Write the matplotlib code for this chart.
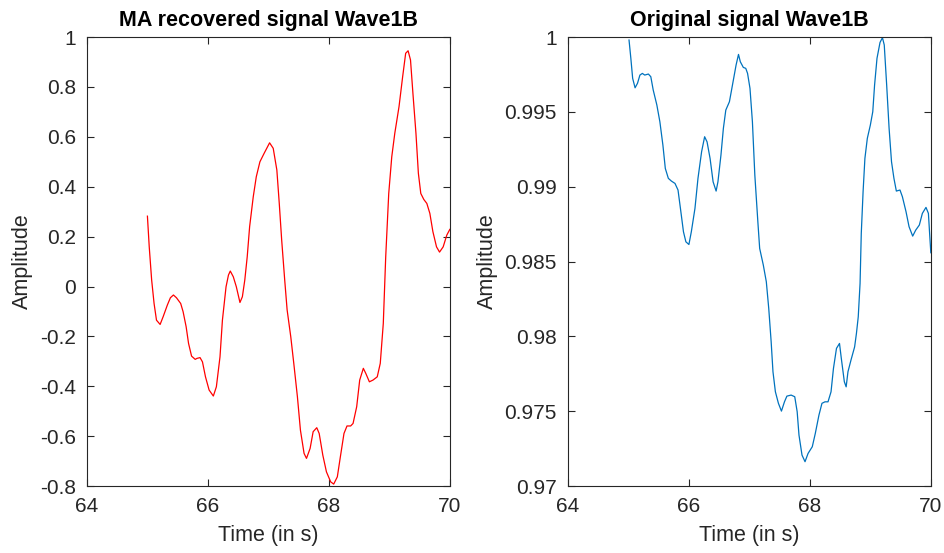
import matplotlib
matplotlib.use("Agg")
import matplotlib.pyplot as plt

plt.rcParams['font.family'] = ['Liberation Sans', 'DejaVu Sans']

# MA recovered signal, Wave1B
t_ma = [65.00, 65.03, 65.07, 65.11, 65.15, 65.21, 65.26, 65.33, 65.38, 65.43,
        65.48, 65.55, 65.59, 65.64, 65.68, 65.73, 65.79, 65.82, 65.87, 65.91,
        65.96, 66.02, 66.09, 66.14, 66.20, 66.24, 66.30, 66.34, 66.37, 66.42,
        66.47, 66.53, 66.57, 66.61, 66.65, 66.69, 66.75, 66.80, 66.86, 66.93,
        67.02, 67.08, 67.14, 67.18, 67.22, 67.27, 67.31, 67.37, 67.42, 67.48,
        67.53, 67.59, 67.63, 67.69, 67.74, 67.80, 67.84, 67.90, 67.96, 68.03,
        68.08, 68.14, 68.19, 68.25, 68.30, 68.36, 68.40, 68.46, 68.51, 68.57,
        68.61, 68.67, 68.73, 68.80, 68.85, 68.90, 68.94, 68.99, 69.04, 69.09,
        69.16, 69.22, 69.27, 69.31, 69.35, 69.39, 69.44, 69.48, 69.52, 69.57,
        69.62, 69.67, 69.72, 69.78, 69.83, 69.89, 69.95, 70.00]
y_ma = [0.282, 0.159, 0.026, -0.068, -0.135, -0.152, -0.121, -0.074, -0.045, -0.034,
        -0.045, -0.068, -0.101, -0.161, -0.228, -0.279, -0.292, -0.288, -0.285, -0.302,
        -0.362, -0.415, -0.439, -0.402, -0.282, -0.135, -0.001, 0.046, 0.062, 0.039,
        -0.001, -0.064, -0.041, 0.026, 0.119, 0.240, 0.360, 0.440, 0.500, 0.534,
        0.576, 0.554, 0.467, 0.333, 0.186, 0.026, -0.094, -0.201, -0.308, -0.442,
        -0.576, -0.669, -0.689, -0.649, -0.582, -0.566, -0.589, -0.676, -0.743, -0.783,
        -0.792, -0.763, -0.683, -0.589, -0.559, -0.559, -0.549, -0.482, -0.375, -0.328,
        -0.348, -0.382, -0.375, -0.362, -0.308, -0.148, 0.119, 0.373, 0.520, 0.614,
        0.721, 0.841, 0.935, 0.945, 0.908, 0.774, 0.614, 0.454, 0.373, 0.349,
        0.333, 0.293, 0.220, 0.159, 0.138, 0.159, 0.206, 0.229]

# original signal, Wave1B
t_orig = [65.01, 65.04, 65.07, 65.11, 65.15, 65.19, 65.23, 65.27, 65.33, 65.37,
          65.41, 65.47, 65.52, 65.57, 65.61, 65.66, 65.71, 65.77, 65.82, 65.86,
          65.91, 65.95, 66.00, 66.04, 66.10, 66.15, 66.21, 66.26, 66.30, 66.35,
          66.40, 66.45, 66.48, 66.53, 66.57, 66.61, 66.67, 66.72, 66.78, 66.82,
          66.85, 66.90, 66.94, 66.97, 67.01, 67.05, 67.09, 67.14, 67.17, 67.23,
          67.28, 67.32, 67.36, 67.39, 67.43, 67.48, 67.53, 67.58, 67.62, 67.69,
          67.75, 67.79, 67.82, 67.87, 67.92, 67.97, 68.04, 68.09, 68.15, 68.20,
          68.25, 68.30, 68.35, 68.39, 68.44, 68.49, 68.52, 68.57, 68.60, 68.63,
          68.68, 68.74, 68.77, 68.80, 68.83, 68.85, 68.88, 68.91, 68.95, 69.00,
          69.04, 69.07, 69.11, 69.16, 69.20, 69.23, 69.27, 69.31, 69.35, 69.39,
          69.43, 69.49, 69.53, 69.59, 69.64, 69.70, 69.75, 69.81, 69.86, 69.92,
          69.96, 69.98, 70.00]
y_orig = [0.99980, 0.99858, 0.99724, 0.99661, 0.99691, 0.99746, 0.99757, 0.99746, 0.99753, 0.99735,
          0.99646, 0.99546, 0.99434, 0.99278, 0.99122, 0.99056, 0.99038, 0.99022, 0.98978, 0.98855,
          0.98699, 0.98632, 0.98614, 0.98699, 0.98855, 0.99056, 0.99234, 0.99334, 0.99300, 0.99189,
          0.99033, 0.98971, 0.99033, 0.99212, 0.99390, 0.99512, 0.99568, 0.99679, 0.99813, 0.99884,
          0.99835, 0.99797, 0.99791, 0.99757, 0.99657, 0.99434, 0.99078, 0.98766, 0.98588, 0.98477,
          0.98365, 0.98187, 0.97964, 0.97764, 0.97630, 0.97553, 0.97501, 0.97563, 0.97601, 0.97608,
          0.97597, 0.97497, 0.97341, 0.97207, 0.97163, 0.97218, 0.97263, 0.97352, 0.97474, 0.97553,
          0.97563, 0.97563, 0.97630, 0.97786, 0.97920, 0.97953, 0.97853, 0.97697, 0.97663, 0.97764,
          0.97842, 0.97930, 0.98020, 0.98131, 0.98354, 0.98688, 0.98967, 0.99189, 0.99323, 0.99412,
          0.99501, 0.99679, 0.99858, 0.99964, 0.99996, 0.99947, 0.99679, 0.99390, 0.99167, 0.99056,
          0.98971, 0.98978, 0.98933, 0.98833, 0.98733, 0.98670, 0.98710, 0.98744, 0.98822, 0.98862,
          0.98822, 0.98688, 0.98559]

x_ticks = [64, 66, 68, 70]
ma_ticks = [-0.8, -0.6, -0.4, -0.2, 0, 0.2, 0.4, 0.6, 0.8, 1]
ma_labels = ['-0.8', '-0.6', '-0.4', '-0.2', '0', '0.2', '0.4', '0.6', '0.8', '1']
orig_ticks = [0.97, 0.975, 0.98, 0.985, 0.99, 0.995, 1]
orig_labels = ['0.97', '0.975', '0.98', '0.985', '0.99', '0.995', '1']

fig = plt.figure(figsize=(9.45, 5.53), dpi=100)
ax1 = fig.add_axes([0.092, 0.121, 0.384, 0.812])
ax2 = fig.add_axes([0.601, 0.121, 0.384, 0.812])

axc = '#262626'

def style(ax):
    for s in ax.spines.values():
        s.set_color(axc)
        s.set_linewidth(0.8)
    ax.tick_params(direction='in', top=True, right=True, length=5, width=0.8,
                   colors=axc, labelsize=15, labelcolor=axc)
    ax.tick_params(axis='x', pad=8)
    ax.tick_params(axis='y', pad=8)
    ax.set_xlim(64, 70)
    ax.set_xticks(x_ticks)
    ax.set_xlabel('Time (in s)', fontsize=15.5, color=axc, labelpad=6)
    ax.set_ylabel('Amplitude', fontsize=15.5, color=axc, labelpad=5)

ax1.plot(t_ma, y_ma, color='#ff0000', linewidth=0.9)
style(ax1)
ax1.set_ylim(-0.8, 1)
ax1.set_yticks(ma_ticks)
ax1.set_yticklabels(ma_labels)
ax1.set_title('MA recovered signal Wave1B', fontsize=15.5, fontweight='bold', pad=8)

ax2.plot(t_orig, y_orig, color='#0072BD', linewidth=0.9)
style(ax2)
ax2.set_ylim(0.97, 1)
ax2.set_yticks(orig_ticks)
ax2.set_yticklabels(orig_labels)
ax2.set_title('Original signal Wave1B', fontsize=15.5, fontweight='bold', pad=8)

fig.savefig('out.png', dpi=100)
